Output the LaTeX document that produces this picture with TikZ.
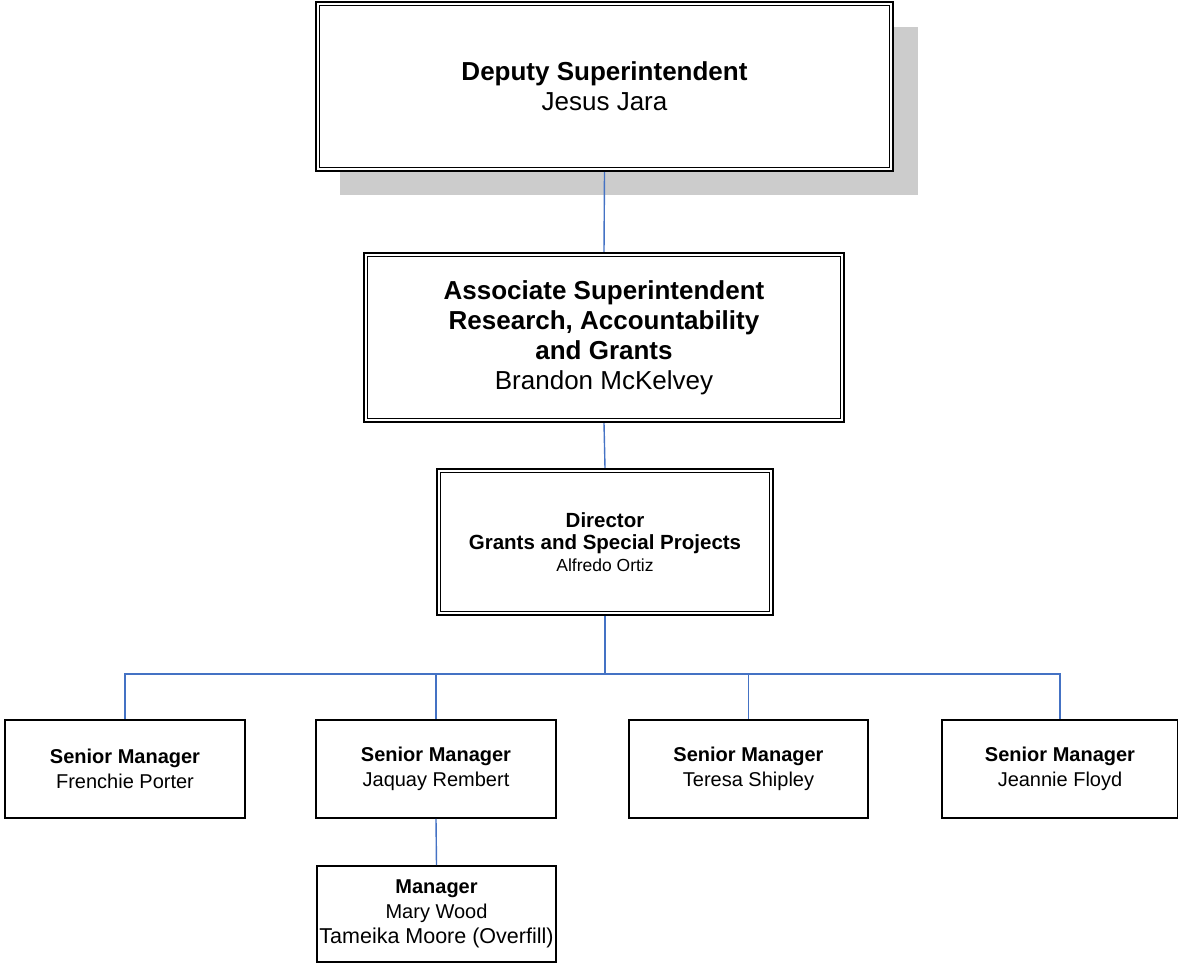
\documentclass[tikz,border=0pt]{standalone}
\usepackage{fontspec}
\setmainfont{Liberation Sans}
\definecolor{linkblue}{RGB}{68,114,196}
\definecolor{shadowgray}{RGB}{204,204,204}
\tikzset{
  dbox/.style={draw=black, line width=2.2pt, fill=white, align=center, inner sep=0pt},
  sbox/.style={draw=black, line width=1.8pt, fill=white, align=center, inner sep=0pt,
    minimum height=98pt, font=\fontsize{20}{25}\selectfont},
  conn/.style={draw=linkblue, line width=1.4pt},
  big/.style={font=\fontsize{26}{30}\selectfont},
  mid/.style={font=\fontsize{20.5}{22}\selectfont}
}
\newcommand{\innerframe}[1]{\draw[line width=1.6pt] ([shift={(4.5,4.5)}]#1.north west) rectangle ([shift={(-4.5,-4.5)}]#1.south east);}
\begin{document}
\begin{tikzpicture}[x=1pt,y=-1pt]
\useasboundingbox (0,0) rectangle (1178,964);
% shadow
\fill[shadowgray] (340,27) rectangle (918,195);
% boxes
\node[dbox, big, minimum width=577pt, minimum height=169pt] (dep) at (604.5,86.5)
  {\textbf{Deputy Superintendent}\\Jesus Jara};
\innerframe{dep}
\node[dbox, big, minimum width=480pt, minimum height=169pt] (assoc) at (604,337.5)
  {\textbf{Associate Superintendent}\\\textbf{Research, Accountability}\\\textbf{and Grants}\\Brandon McKelvey};
\innerframe{assoc}
\node[dbox, mid, minimum width=336pt, minimum height=146pt] (dir) at (605,542)
  {\textbf{Director}\\\textbf{Grants and Special Projects}\\{\fontsize{17.5}{22}\selectfont Alfredo Ortiz}};
\innerframe{dir}
\node[sbox, minimum width=240pt] (s1) at (125,769) {\textbf{Senior Manager}\\Frenchie Porter};
\node[sbox, minimum width=240pt] (s2) at (436,769) {\textbf{Senior Manager}\\Jaquay Rembert};
\node[sbox, minimum width=239pt] (s3) at (748.5,769) {\textbf{Senior Manager}\\Teresa Shipley};
\node[sbox, minimum width=236pt] (s4) at (1060,769) {\textbf{Senior Manager}\\Jeannie Floyd};
\node[sbox, minimum width=239pt, minimum height=96pt] (mgr) at (436.5,914)
  {\textbf{Manager}\\Mary Wood\\{\fontsize{21.5}{25}\selectfont Tameika Moore (Overfill)}};
% connectors
\coordinate (bus) at (605,674);
\draw[conn] (dep.south) -- (assoc.north);
\draw[conn] (assoc.south) -- (dir.north);
\draw[conn] (dir.south) -- (bus);
\draw[conn] (bus) -| (s1.north);
\draw[conn] (bus) -| (s2.north);
\draw[conn] (bus) -| (s3.north);
\draw[conn] (bus) -| (s4.north);
\draw[conn] (s2.south) -- (mgr.north);
\end{tikzpicture}
\end{document}
